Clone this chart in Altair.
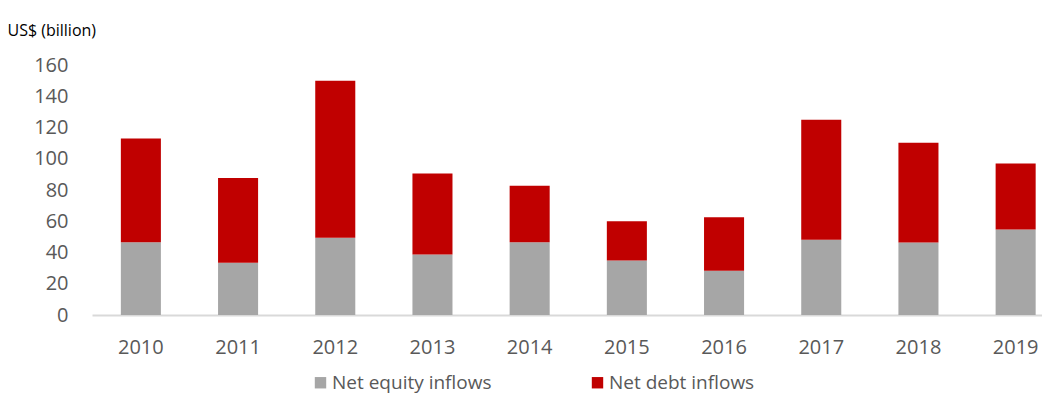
import altair as alt
import pandas as pd

years = ["2010", "2011", "2012", "2013", "2014", "2015", "2016", "2017", "2018", "2019"]
equity = [46.6, 33.4, 49.5, 38.7, 46.6, 34.9, 28.3, 48.2, 46.4, 54.7]
debt = [66.4, 54.3, 100.5, 51.9, 36.1, 25.1, 34.3, 76.7, 63.8, 42.3]
series = ["Net equity inflows", "Net debt inflows"]
colors = ["#a6a6a6", "#c00000"]

rows = []
for i, y in enumerate(years):
    rows.append({"year": y, "series": series[0], "value": equity[i], "ord": 0})
    rows.append({"year": y, "series": series[1], "value": debt[i], "ord": 1})
df = pd.DataFrame(rows)

FONT = "Open Sans"

chart = (
    alt.Chart(df)
    .mark_bar()
    .encode(
        x=alt.X(
            "year:N",
            title=None,
            sort=years,
            scale=alt.Scale(paddingInner=0.588, paddingOuter=0.181, align=0.82),
            axis=alt.Axis(
                labelAngle=0,
                ticks=False,
                tickSize=0,
                domainColor="#d9d9d9",
                domainWidth=2,
                labelColor="#595959",
                labelFontSize=20,
                labelFont=FONT,
                labelPadding=22,
            ),
        ),
        y=alt.Y(
            "value:Q",
            stack="zero",
            scale=alt.Scale(domain=[0, 160], nice=False),
            axis=alt.Axis(
                title="US$ (billion)",
                titleAngle=0,
                titleX=-85,
                titleY=-35,
                titleAlign="left",
                titleBaseline="middle",
                titleFont=FONT,
                titleFontSize=16,
                titleFontWeight="normal",
                titleColor="#000000",
                values=[0, 20, 40, 60, 80, 100, 120, 140, 160],
                grid=False,
                domain=False,
                ticks=False,
                tickSize=0,
                labelPadding=24,
                labelColor="#595959",
                labelFontSize=20,
                labelFont=FONT,
            ),
        ),
        color=alt.Color(
            "series:N",
            scale=alt.Scale(domain=series, range=colors),
            legend=alt.Legend(
                title=None,
                orient="none",
                direction="horizontal",
                legendX=219,
                legendY=308,
                symbolType="square",
                symbolSize=130,
                symbolStrokeWidth=0,
                labelFont=FONT,
                labelFontSize=19,
                labelColor="#595959",
                labelOffset=2,
                columnPadding=96,
            ),
        ),
        order=alt.Order("ord:Q", sort="ascending"),
    )
    .properties(
        width=950,
        height=250,
        autosize=alt.AutoSizeParams(type="none"),
        padding={"left": 84, "top": 57, "right": 0, "bottom": 82},
    )
    .configure_view(stroke=None)
)

chart.save("out.html", embed_options={"renderer": "svg", "actions": False})
